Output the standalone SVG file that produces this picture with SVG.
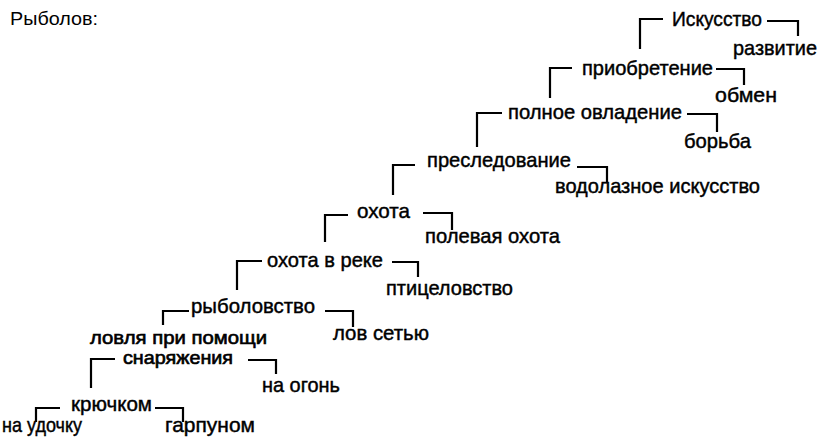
<svg xmlns="http://www.w3.org/2000/svg" width="821" height="445" viewBox="0 0 821 445">
<style>
text{font-family:"Liberation Sans",Arial,sans-serif;font-size:21px;fill:#000;stroke:#000;stroke-width:0.45;}
.title{font-size:18px;stroke:none;}
.tight{font-size:17.5px;stroke-width:0.6;}
.c{fill:none;stroke:#000;stroke-width:2.2;}
</style>
<rect width="821" height="445" fill="#fff"/>
<g id="title"><text class="title" x="10" y="25" textLength="88" lengthAdjust="spacingAndGlyphs">Рыболов:</text></g>
<g id="n-iskusstvo"><text x="672" y="26" textLength="90" lengthAdjust="spacingAndGlyphs">Искусство</text></g>
<g id="n-razvitie"><text x="733" y="55" textLength="84" lengthAdjust="spacingAndGlyphs">развитие</text></g>
<g id="n-priobretenie"><text x="582" y="75" textLength="131" lengthAdjust="spacingAndGlyphs">приобретение</text></g>
<g id="n-obmen"><text x="715" y="102" textLength="62" lengthAdjust="spacingAndGlyphs">обмен</text></g>
<g id="n-polnoe"><text x="508" y="119" textLength="174" lengthAdjust="spacingAndGlyphs">полное овладение</text></g>
<g id="n-borba"><text x="684" y="148" textLength="67" lengthAdjust="spacingAndGlyphs">борьба</text></g>
<g id="n-presledovanie"><text x="427" y="167" textLength="144" lengthAdjust="spacingAndGlyphs">преследование</text></g>
<g id="n-vodolaznoe"><text x="555" y="193" textLength="205" lengthAdjust="spacingAndGlyphs">водолазное искусство</text></g>
<g id="n-okhota"><text x="357" y="218" textLength="53" lengthAdjust="spacingAndGlyphs">охота</text></g>
<g id="n-polevaya"><text x="425" y="243" textLength="135" lengthAdjust="spacingAndGlyphs">полевая охота</text></g>
<g id="n-okhota-reke"><text x="267" y="267" textLength="116" lengthAdjust="spacingAndGlyphs">охота в реке</text></g>
<g id="n-pticelovstvo"><text x="386" y="295" textLength="127" lengthAdjust="spacingAndGlyphs">птицеловство</text></g>
<g id="n-rybolovstvo"><text x="191" y="313" textLength="124" lengthAdjust="spacingAndGlyphs">рыболовство</text></g>
<g id="n-lov-setyu"><text x="333" y="340" textLength="96" lengthAdjust="spacingAndGlyphs">лов сетью</text></g>
<g id="n-lovlya"><text class="tight"><tspan x="90" y="344" textLength="177" lengthAdjust="spacingAndGlyphs">ловля при помощи</tspan><tspan x="123" y="364" textLength="110" lengthAdjust="spacingAndGlyphs">снаряжения</tspan></text></g>
<g id="n-na-ogon"><text x="262" y="392" textLength="78" lengthAdjust="spacingAndGlyphs">на огонь</text></g>
<g id="n-kryuchkom"><text x="71" y="411" textLength="81" lengthAdjust="spacingAndGlyphs">крючком</text></g>
<g id="n-na-udochku"><text x="2" y="432" textLength="80" lengthAdjust="spacingAndGlyphs">на удочку</text></g>
<g id="n-garpunom"><text x="165" y="432" textLength="90" lengthAdjust="spacingAndGlyphs">гарпуном</text></g>
<g id="connectors">
<polyline class="c" points="640,49 640,19 663,19"/>
<polyline class="c" points="767,21 798,21 798,36"/>
<polyline class="c" points="550,98 550,68 572,68"/>
<polyline class="c" points="716,69 744,69 744,85"/>
<polyline class="c" points="477,147 477,113 502,113"/>
<polyline class="c" points="687,114 717,114 717,132"/>
<polyline class="c" points="393,195 393,165 415,165"/>
<polyline class="c" points="577,167 607,167 607,182"/>
<polyline class="c" points="325,242 325,215 348,215"/>
<polyline class="c" points="423,213 452,213 452,230"/>
<polyline class="c" points="237,290 237,261 262,261"/>
<polyline class="c" points="392,262 418,262 418,277"/>
<polyline class="c" points="163,325 163,311 189,311"/>
<polyline class="c" points="325,311 353,311 353,327"/>
<polyline class="c" points="91,388 91,359 115,359"/>
<polyline class="c" points="248,360 276,360 276,374"/>
<polyline class="c" points="36,422 36,408 60,408"/>
<polyline class="c" points="155,408 183,408 183,422"/>
</g>
</svg>
